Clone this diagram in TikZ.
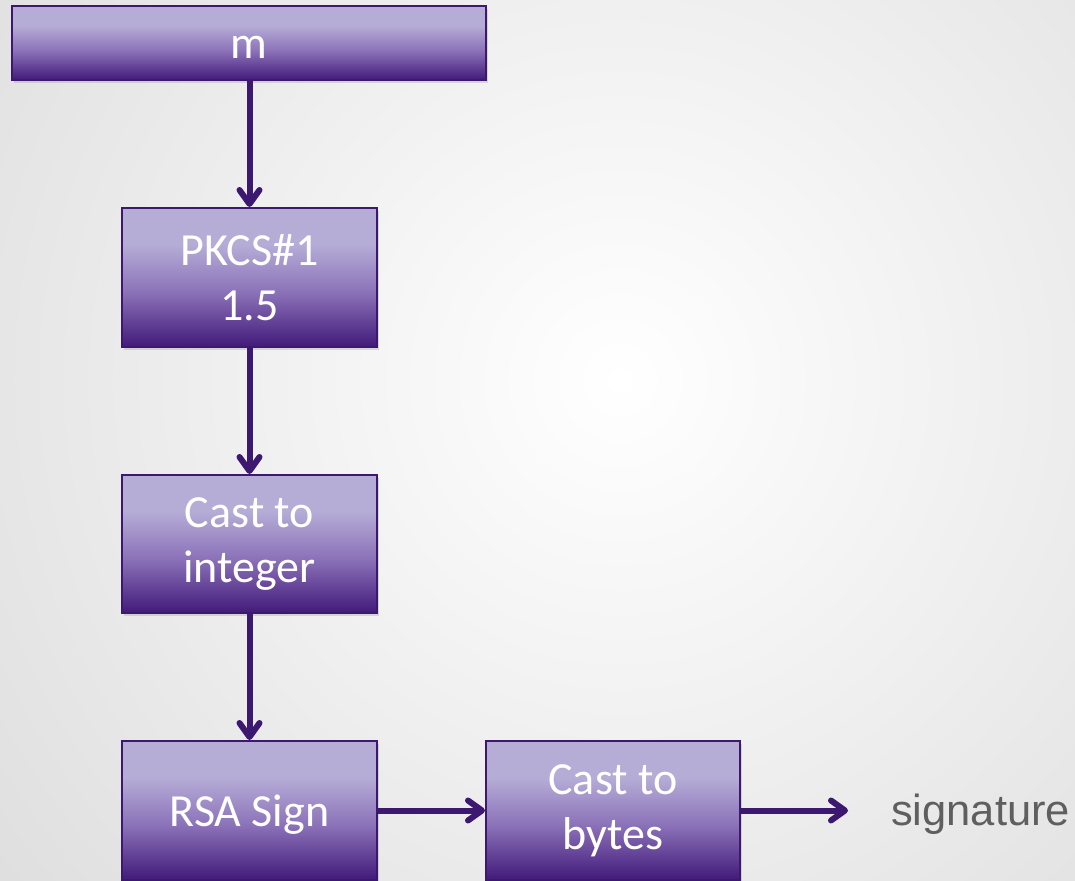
\documentclass[tikz,border=0pt]{standalone}
\usepackage{fontspec}
\setmainfont{Carlito}
\newfontfamily\sigfont{Liberation Sans}
\usetikzlibrary{arrows.meta,shadows,positioning}
\definecolor{plight}{RGB}{182,173,215}
\definecolor{pmid}{RGB}{140,115,185}
\definecolor{pdark}{RGB}{66,26,122}
\definecolor{pborder}{RGB}{60,24,110}
\definecolor{parrow}{RGB}{60,24,112}
\definecolor{sigcol}{RGB}{95,95,95}
\pgfdeclareverticalshading{boxshade}{100bp}{color(0bp)=(pdark); color(25bp)=(pdark); color(45bp)=(pmid); color(62bp)=(plight); color(75bp)=(plight); color(100bp)=(plight)}
\tikzset{
  procbox/.style={draw=pborder, line width=2pt, shading=boxshade, text=white,
    font=\fontsize{46}{55}\selectfont, align=center, inner sep=0pt,
    drop shadow={shadow xshift=2pt, shadow yshift=-3pt, opacity=0.25}},
  oneline/.style={text height=40pt, text depth=8pt},
  flow/.style={draw=parrow, line width=6pt,
    -{Straight Barb[length=14pt,width=20pt,line cap=round,line join=round]}},
}
\begin{document}
\begin{tikzpicture}[x=1pt,y=-1pt]
\useasboundingbox (0,0) rectangle (1075,880);
\begin{scope}
\clip (0,0) rectangle (1075,880);
\shade[inner color=white, outer color=black!13] (620,380) circle (820);
\end{scope}
\node[procbox, oneline, minimum width=474pt, minimum height=74pt] (m) at (249,43) {m};
\node[procbox, minimum width=255pt, minimum height=139pt] (pkcs) at (249.5,277.5) {PKCS\#1\\1.5};
\node[procbox, minimum width=255pt, minimum height=138pt] (cast) at (249.5,544) {Cast to\\integer};
\node[procbox, oneline, minimum width=255pt, minimum height=139pt] (rsa) at (249.5,810.5) {RSA Sign};
\node[procbox, minimum width=254pt, minimum height=139pt] (bytes) at (613,810.5) {Cast to\\bytes};
\node[text=sigcol, font=\sigfont\fontsize{43.5}{50}\selectfont, anchor=base west, inner sep=0pt] (sig) at (891,825) {signature};
\draw[flow] (m.south -| pkcs.north) -- (pkcs.north);
\draw[flow] (pkcs.south) -- (cast.north);
\draw[flow] (cast.south) -- (rsa.north);
\draw[flow] (rsa.east) -- (bytes.west);
\draw[flow] (bytes.east) -- ([xshift=-43pt]sig.west |- bytes.east);
\end{tikzpicture}
\end{document}
